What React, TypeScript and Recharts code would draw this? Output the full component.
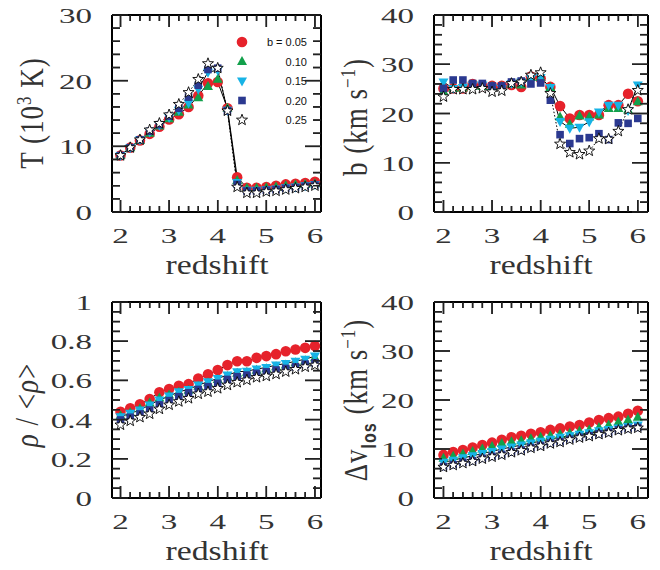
import React from 'react';
import { LineChart, Line, XAxis, YAxis, ReferenceLine } from 'recharts';

const redshift = [2.0, 2.2, 2.4, 2.6, 2.8, 3.0, 3.2, 3.4, 3.6, 3.8, 4.0, 4.2, 4.4, 4.6, 4.8, 5.0, 5.2, 5.4, 5.6, 5.8, 6.0];
const legendLabels = ['b = 0.05', '0.10', '0.15', '0.20', '0.25'];

// temperature, 10^3 K
const temp05 = [8.6, 9.8, 10.9, 11.9, 13.0, 14.1, 14.9, 16.0, 17.7, 19.6, 19.8, 15.8, 5.3, 3.7, 3.7, 3.8, 4.0, 4.2, 4.3, 4.4, 4.6];
const temp10 = [8.6, 9.8, 10.9, 12.0, 13.1, 14.2, 15.2, 16.3, 17.4, 19.1, 20.2, 15.8, 4.8, 3.6, 3.6, 3.7, 3.8, 4.0, 4.1, 4.2, 4.3];
const temp15 = [8.6, 9.8, 11.0, 12.2, 13.2, 14.4, 15.5, 16.6, 18.7, 21.3, 21.6, 15.5, 4.5, 3.3, 3.3, 3.4, 3.5, 3.7, 3.8, 4.0, 4.2];
const temp20 = [8.6, 9.8, 11.0, 12.3, 13.3, 14.6, 15.8, 17.5, 19.3, 21.7, 21.9, 15.4, 4.2, 3.2, 3.2, 3.3, 3.4, 3.6, 3.7, 3.9, 4.1];
const temp25 = [8.6, 9.8, 11.0, 12.5, 13.5, 14.8, 16.4, 18.2, 20.2, 22.6, 21.9, 15.4, 3.8, 2.9, 2.9, 3.1, 3.2, 3.4, 3.6, 3.8, 4.0];

// b parameter, km/s
const bpar05 = [25.1, 25.1, 25.1, 26.0, 25.6, 25.6, 25.6, 25.8, 25.4, 27.5, 27.1, 25.4, 21.5, 19.0, 19.7, 19.7, 19.7, 21.7, 21.7, 24.0, 22.5];
const bpar10 = [24.4, 25.1, 25.2, 25.6, 25.5, 25.5, 25.5, 26.0, 25.8, 27.3, 27.3, 25.3, 19.3, 17.8, 19.5, 19.3, 19.7, 21.0, 21.0, 20.7, 22.4];
const bpar15 = [26.4, 25.1, 25.3, 25.8, 25.8, 25.3, 25.1, 26.1, 26.4, 27.1, 27.3, 25.3, 18.4, 17.0, 17.2, 18.3, 20.3, 21.7, 21.7, 20.6, 25.8];
const bpar20 = [25.1, 26.8, 26.8, 26.1, 26.1, 25.6, 25.6, 26.4, 26.6, 26.0, 26.2, 22.7, 15.7, 13.9, 14.9, 15.1, 15.9, 14.7, 18.1, 18.0, 19.0];
const bpar25 = [23.4, 24.9, 24.9, 24.9, 25.1, 24.4, 24.6, 26.1, 26.4, 27.8, 28.3, 24.1, 13.8, 12.1, 11.7, 12.4, 14.9, 14.8, 16.4, 20.8, 24.7];

// density rho/<rho>
const rho05 = [0.44, 0.458, 0.478, 0.505, 0.539, 0.556, 0.573, 0.581, 0.61, 0.631, 0.653, 0.678, 0.698, 0.698, 0.715, 0.724, 0.734, 0.749, 0.758, 0.766, 0.776];
const rho10 = [0.42, 0.435, 0.455, 0.485, 0.51, 0.525, 0.54, 0.55, 0.57, 0.588, 0.604, 0.62, 0.636, 0.642, 0.652, 0.66, 0.67, 0.678, 0.69, 0.7, 0.715];
const rho15 = [0.415, 0.432, 0.449, 0.475, 0.5, 0.52, 0.542, 0.554, 0.576, 0.593, 0.61, 0.627, 0.644, 0.647, 0.658, 0.666, 0.678, 0.686, 0.698, 0.708, 0.724];
const rho20 = [0.398, 0.412, 0.429, 0.449, 0.475, 0.497, 0.517, 0.537, 0.554, 0.568, 0.585, 0.605, 0.619, 0.627, 0.636, 0.644, 0.653, 0.661, 0.669, 0.683, 0.69];
const rho25 = [0.373, 0.393, 0.412, 0.429, 0.454, 0.475, 0.492, 0.508, 0.531, 0.542, 0.559, 0.576, 0.59, 0.602, 0.615, 0.622, 0.632, 0.644, 0.656, 0.669, 0.678];

// line-of-sight velocity width, km/s
const dvlos05 = [8.8, 9.4, 9.8, 10.3, 10.8, 11.3, 11.9, 12.4, 12.7, 13.1, 13.4, 13.9, 14.2, 14.6, 14.9, 15.4, 15.9, 16.3, 16.6, 17.2, 17.8];
const dvlos10 = [8.1, 8.5, 9.0, 9.5, 10.0, 10.5, 11.1, 11.5, 11.7, 12.1, 12.4, 12.7, 13.0, 13.2, 13.6, 13.9, 14.4, 14.9, 15.5, 15.9, 16.5];
const dvlos15 = [7.3, 7.7, 8.2, 8.6, 9.1, 9.5, 10.0, 10.4, 10.8, 11.2, 11.6, 12.0, 12.4, 12.7, 13.0, 13.3, 13.7, 14.0, 14.3, 14.6, 14.9];
const dvlos20 = [6.4, 6.8, 7.3, 7.6, 8.1, 8.5, 8.9, 9.4, 9.8, 10.3, 10.7, 11.2, 11.5, 12.0, 12.4, 12.7, 13.1, 13.4, 13.9, 14.2, 14.4];
const dvlos25 = [6.3, 6.7, 7.1, 7.5, 8.0, 8.4, 8.8, 9.3, 9.7, 10.2, 10.6, 11.1, 11.4, 11.9, 12.3, 12.6, 13.0, 13.3, 13.8, 14.1, 14.3];

// axis ticks
const xMajor = [2, 3, 4, 5, 6];
const tMajor = [0, 10, 20, 30];
const bMajor = [0, 10, 20, 30, 40];
const rhoMajor = [0, 0.2, 0.4, 0.6, 0.8, 1];
const dvMajor = [0, 10, 20, 30, 40];

const steps = (from: number, to: number, step: number) => {
  const out: number[] = [];
  for (let v = from; v <= to + 1e-9; v += step) out.push(Math.round(v * 1000) / 1000);
  return out;
};

const COLORS = ['#e6222b', '#12a04b', '#17b3e6', '#2b3990', '#ffffff'];
const KINDS = ['circle', 'up', 'down', 'square', 'star'];
const SERIF = '"Liberation Serif", "Times New Roman", serif';
const SANS = '"Liberation Sans", Arial, sans-serif';
const INK = '#333';

const starPoints = (cx: number, cy: number, R: number, r: number) => {
  const pts: string[] = [];
  for (let k = 0; k < 10; k++) {
    const a = -Math.PI / 2 + (k * Math.PI) / 5;
    const rad = k % 2 ? r : R;
    pts.push(`${(cx + rad * Math.cos(a)).toFixed(2)},${(cy + rad * Math.sin(a)).toFixed(2)}`);
  }
  return pts.join(' ');
};

const Marker = ({ kind, cx, cy }: { kind: string; cx: number; cy: number }) => {
  if (cx == null || cy == null) return null;
  switch (kind) {
    case 'circle':
      return <circle cx={cx} cy={cy} r={5.3} fill={COLORS[0]} />;
    case 'up':
      return <polygon points={`${cx},${cy - 5.5} ${cx - 5},${cy + 3.5} ${cx + 5},${cy + 3.5}`} fill={COLORS[1]} />;
    case 'down':
      return <polygon points={`${cx - 5},${cy - 3.5} ${cx + 5},${cy - 3.5} ${cx},${cy + 5.5}`} fill={COLORS[2]} />;
    case 'square':
      return <rect x={cx - 3.8} y={cy - 3.8} width={7.6} height={7.6} fill={COLORS[3]} />;
    default:
      return <polygon points={starPoints(cx, cy, 5.8, 2.4)} fill="#fff" stroke="#000" strokeWidth={0.9} />;
  }
};

const dotFor = (kind: string) => (p: any) => <Marker key={`${kind}-${p.index}`} kind={kind} cx={p.cx} cy={p.cy} />;

const isMajor = (v: number, majors: number[]) => majors.some((m) => Math.abs(m - v) < 1e-6);

const TickLabel = ({ x, y, anchor, children }: any) => (
  <text
    transform={`translate(${x},${y}) scale(1.5,1)`}
    textAnchor={anchor}
    fontFamily={SERIF}
    fontSize={22}
    fill={INK}
    stroke="none"
  >
    {children}
  </text>
);

// tick marks point inward; labels only on the bottom and left
const makeTick = (side: string, majors: number[]) => (props: any) => {
  const { x, y, payload, index } = props;
  const v = payload.value;
  const major = isMajor(v, majors);
  const len = side === 'bottom' || side === 'top' ? (major ? 12 : 6) : major ? 16 : 8;
  let x2 = x;
  let y2 = y;
  if (side === 'bottom') y2 = y - len;
  else if (side === 'top') y2 = y + len;
  else if (side === 'left') x2 = x + len;
  else x2 = x - len;
  return (
    <g key={`${side}-${index}`}>
      <line x1={x} y1={y} x2={x2} y2={y2} stroke="#222" strokeWidth={1.5} />
      {major && side === 'bottom' && <TickLabel x={x} y={y + 31} anchor="middle">{String(v)}</TickLabel>}
      {major && side === 'left' && <TickLabel x={x - 20} y={y + 8} anchor="end">{String(v)}</TickLabel>}
    </g>
  );
};

interface PanelProps {
  series: number[][];
  at: { left: number; top: number };
  box: { left: number; right: number; top: number; bottom: number };
  xDomain: [number, number];
  yDomain: [number, number];
  yMajor: number[];
  yTicks: number[];
}

const W = 330;
const H = 285;
const axisLine = { stroke: '#000', strokeWidth: 2 };
const tickStroke = { stroke: '#222', strokeWidth: 1.5, ifOverflow: 'visible' as const };

// each panel is its own chart filling one quarter of the page
const Panel = ({ series, at, box, xDomain, yDomain, yMajor, yTicks }: PanelProps) => {
  const data = redshift.map((z, i) => {
    const row: any = { z };
    series.forEach((s, k) => (row[`s${k}`] = s[i]));
    return row;
  });
  const xTicks = steps(2, 6, 0.2);
  const xPerPx = (xDomain[1] - xDomain[0]) / (box.right - box.left);
  const yPerPx = (yDomain[1] - yDomain[0]) / (box.bottom - box.top);
  const [x0, x1] = xDomain;
  const [y0, y1] = yDomain;
  const l = box.left - at.left;
  const r = box.right - at.left;
  const t = box.top - at.top;
  const b = box.bottom - at.top;
  return (
    <div style={{ position: 'absolute', left: at.left, top: at.top, width: W, height: H }}>
      <LineChart width={W} height={H} data={data} margin={{ top: t - 1, left: l - 1, right: W - r - 1, bottom: H - b - 1 }}>
        <XAxis xAxisId="b" dataKey="z" type="number" domain={xDomain} allowDataOverflow ticks={xTicks}
          interval={0} height={1} tickSize={0} tickMargin={0} axisLine={axisLine} tickLine={false}
          tick={makeTick('bottom', xMajor)} />
        <XAxis xAxisId="t" orientation="top" dataKey="z" type="number" domain={xDomain} allowDataOverflow ticks={xTicks}
          interval={0} height={1} tickSize={0} tickMargin={0} axisLine={axisLine} tickLine={false}
          tick={makeTick('top', xMajor)} />
        <YAxis yAxisId="l" type="number" domain={yDomain} allowDataOverflow ticks={yTicks}
          interval={0} width={1} tickSize={0} tickMargin={0} axisLine={axisLine} tickLine={false}
          tick={makeTick('left', yMajor)} />
        <YAxis yAxisId="r" orientation="right" type="number" domain={yDomain} allowDataOverflow ticks={yTicks}
          interval={0} width={1} tickSize={0} tickMargin={0} axisLine={axisLine} tickLine={false}
          tick={makeTick('right', yMajor)} />

        {xTicks.map((v) => {
          const len = (isMajor(v, xMajor) ? 12 : 6) * yPerPx;
          return (
            <React.Fragment key={`x${v}`}>
              <ReferenceLine xAxisId="b" yAxisId="l" segment={[{ x: v, y: y0 }, { x: v, y: y0 + len }]} {...tickStroke} />
              <ReferenceLine xAxisId="b" yAxisId="l" segment={[{ x: v, y: y1 }, { x: v, y: y1 - len }]} {...tickStroke} />
            </React.Fragment>
          );
        })}
        {yTicks.map((v) => {
          const len = (isMajor(v, yMajor) ? 16 : 8) * xPerPx;
          return (
            <React.Fragment key={`y${v}`}>
              <ReferenceLine xAxisId="b" yAxisId="l" segment={[{ x: x0, y: v }, { x: x0 + len, y: v }]} {...tickStroke} />
              <ReferenceLine xAxisId="b" yAxisId="l" segment={[{ x: x1, y: v }, { x: x1 - len, y: v }]} {...tickStroke} />
            </React.Fragment>
          );
        })}

        {KINDS.map((kind, k) => (
          <Line key={kind} xAxisId="b" yAxisId="l" dataKey={`s${k}`} stroke="none" dot={dotFor(kind)}
            activeDot={false} isAnimationActive={false} />
        ))}
        <Line xAxisId="b" yAxisId="l" dataKey="s0" stroke="#000" strokeWidth={1} dot={false} activeDot={false} isAnimationActive={false} />
        <Line xAxisId="b" yAxisId="l" dataKey="s2" stroke="#000" strokeWidth={1} dot={false} activeDot={false} isAnimationActive={false} />
        <Line xAxisId="b" yAxisId="l" dataKey="s4" stroke="#000" strokeWidth={1} strokeDasharray="1.5 2" dot={false} activeDot={false} isAnimationActive={false} />
      </LineChart>
    </div>
  );
};

const Title = ({ x, y, children }: any) => (
  <text transform={`translate(${x},${y}) scale(1.25,1)`} textAnchor="middle" fontFamily={SERIF} fontSize={27} fill={INK}>
    {children}
  </text>
);

const VTitle = ({ x, y, children }: any) => (
  <text transform={`translate(${x},${y}) scale(1.25,1) rotate(-90)`} textAnchor="middle" fontFamily={SERIF} fontSize={27} fill={INK} letterSpacing={1}>
    {children}
  </text>
);

const LEFT = { left: 112, right: 321 };
const RIGHT = { left: 434, right: 648 };
const TOP = { top: 15, bottom: 212 };
const BOTTOM = { top: 302, bottom: 498 };

export default function App() {
  return (
    <div style={{ position: 'absolute', left: 0, top: 0, width: 660, height: 570, background: '#fff' }}>
      <svg width={660} height={570} style={{ position: 'absolute', left: 0, top: 0 }}>
        <Title x={217} y={274}>redshift</Title>
        <Title x={541} y={274}>redshift</Title>
        <Title x={217} y={560}>redshift</Title>
        <Title x={541} y={560}>redshift</Title>

        <VTitle x={43} y={113}>
          T (10<tspan dy={-10} fontSize={17}>3</tspan><tspan dy={10}> K)</tspan>
        </VTitle>
        <VTitle x={367} y={117}>
          b (km s<tspan dy={-10} fontSize={17}>−1</tspan><tspan dy={10}>)</tspan>
        </VTitle>
        <VTitle x={38} y={405}>
          <tspan fontStyle="italic">ρ</tspan> / &lt;<tspan fontStyle="italic">ρ</tspan>&gt;
        </VTitle>
        <VTitle x={367} y={400}>
          Δv<tspan dy={7} fontSize={16} fontFamily={SANS} fontWeight="bold">los</tspan>
          <tspan dy={-7}> (km s</tspan><tspan dy={-10} fontSize={17}>−1</tspan><tspan dy={10}>)</tspan>
        </VTitle>

        {legendLabels.map((label, i) => (
          <g key={label}>
            <Marker kind={KINDS[i]} cx={242} cy={42 + i * 19.5} />
            <text x={307} y={46 + i * 19.5} textAnchor="end" fontFamily={SANS} fontSize={11} fill="#111">
              {label}
            </text>
          </g>
        ))}
      </svg>

      <Panel series={[temp05, temp10, temp15, temp20, temp25]} at={{ left: 0, top: 0 }} box={{ ...LEFT, ...TOP }}
        xDomain={[1.825, 6.125]} yDomain={[0, 30]} yMajor={tMajor} yTicks={steps(0, 30, 2)} />
      <Panel series={[bpar05, bpar10, bpar15, bpar20, bpar25]} at={{ left: 330, top: 0 }} box={{ ...RIGHT, ...TOP }}
        xDomain={[1.805, 6.21]} yDomain={[0, 40]} yMajor={bMajor} yTicks={steps(0, 40, 2)} />
      <Panel series={[rho05, rho10, rho15, rho20, rho25]} at={{ left: 0, top: 285 }} box={{ ...LEFT, ...BOTTOM }}
        xDomain={[1.825, 6.125]} yDomain={[0, 1]} yMajor={rhoMajor} yTicks={steps(0, 1, 0.05)} />
      <Panel series={[dvlos05, dvlos10, dvlos15, dvlos20, dvlos25]} at={{ left: 330, top: 285 }} box={{ ...RIGHT, ...BOTTOM }}
        xDomain={[1.805, 6.21]} yDomain={[0, 40]} yMajor={dvMajor} yTicks={steps(0, 40, 2)} />
    </div>
  );
}
